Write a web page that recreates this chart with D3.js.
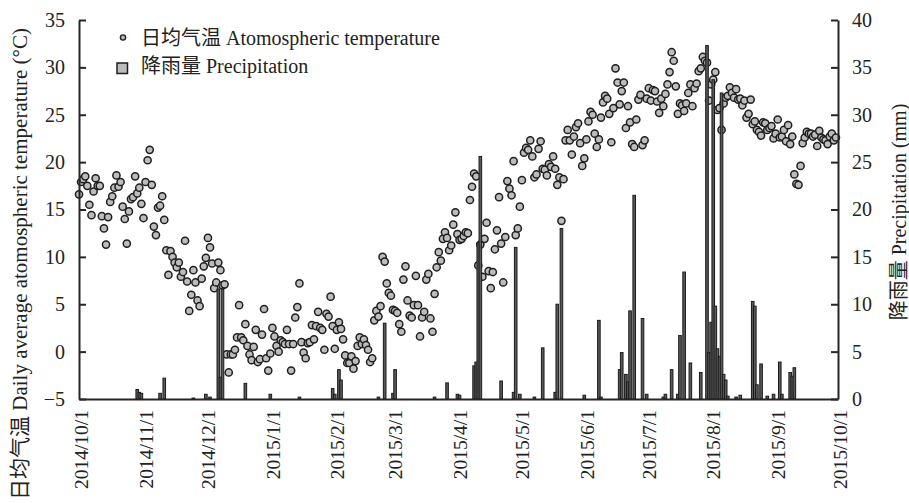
<!DOCTYPE html>
<html>
<head>
<meta charset="utf-8">
<script src="https://cdn.jsdelivr.net/npm/d3@7"></script>
<style>
body{margin:0;background:#fff;}
svg text{font-family:"Liberation Serif","Noto Sans CJK SC",serif;fill:#222;}
</style>
</head>
<body>
<svg id="chart" width="909" height="503"></svg>
<script>
// 日均气温 (°C), one value per day from 2014/10/1
var startDay = "2014/10/1";
var temperature = [
16.6,17.9,18.2,18.5,17.5,15.5,14.4,16.9,18.3,17.5,
17.5,14.3,13.0,11.3,14.2,15.8,16.4,17.3,18.6,17.4,
17.9,15.3,14.0,11.4,14.8,16.1,16.3,18.5,16.7,17.3,
15.6,14.1,17.9,20.2,21.3,17.6,13.2,12.3,15.2,15.4,
16.4,13.9,10.7,8.1,10.6,10.0,9.4,8.9,9.4,7.9,
8.4,11.7,7.4,4.3,6.0,8.6,7.3,5.4,4.8,7.7,
9.0,9.9,12.0,11.0,9.3,6.7,7.3,9.4,8.6,7.0,
7.1,-0.3,-2.2,-0.3,-0.3,0.2,1.5,4.9,1.5,1.2,
2.9,0.6,-0.3,-0.9,0.5,2.3,-1.1,-0.8,1.8,4.5,
-0.7,-2.0,-0.2,2.5,1.6,0.6,0.0,1.2,1.0,0.8,
2.3,0.8,-2.0,0.8,3.6,4.7,7.2,1.0,-0.1,-0.7,
0.9,1.0,2.8,1.3,2.7,4.2,2.5,2.3,0.2,4.0,
3.7,5.8,2.7,0.3,2.3,3.1,2.4,1.3,-0.4,-1.2,
-1.2,-0.5,-1.8,-1.0,0.6,1.5,0.8,1.3,0.7,0.2,
-1.1,-0.7,3.3,4.3,3.7,4.8,10.0,9.5,7.2,6.2,
5.9,4.4,4.3,4.1,2.9,2.1,7.6,9.0,5.4,3.8,
3.6,4.9,8.0,4.9,1.6,3.6,4.2,7.6,8.2,3.5,
2.1,6.1,8.9,10.5,9.6,11.9,12.6,12.0,10.7,11.2,
13.4,14.7,12.4,11.8,11.9,12.2,12.6,12.5,16.0,17.4,
18.8,18.5,9.1,11.3,7.9,11.9,13.6,8.5,6.7,8.4,
10.8,12.8,16.3,11.4,7.3,12.1,18.0,17.2,16.5,20.1,
12.3,13.0,15.3,18.1,21.0,21.5,21.3,22.3,20.6,18.4,
18.7,21.4,22.2,19.3,19.2,18.6,19.8,19.5,20.6,19.3,
17.6,18.4,13.8,18.2,22.3,23.4,22.3,20.8,22.7,23.7,
24.1,22.0,19.6,20.4,22.4,24.3,25.3,25.0,23.0,21.6,
22.4,24.7,26.3,27.0,26.7,25.1,22.1,25.7,29.9,28.4,
26.1,27.5,28.4,23.6,25.9,24.2,21.9,21.6,24.5,26.6,
27.1,21.8,22.3,26.7,27.8,26.5,27.6,27.5,26.4,25.2,
26.7,25.9,27.2,28.2,29.5,31.6,30.7,28.0,25.1,26.2,
26.0,25.4,26.2,27.3,28.2,25.9,27.8,28.3,29.6,29.9,
31.1,30.7,30.5,26.5,28.2,28.7,29.5,25.5,25.7,23.4,
26.2,26.8,27.0,27.9,27.3,26.8,27.7,26.6,26.7,26.0,
26.5,24.7,25.1,26.6,24.0,24.3,23.4,23.2,22.8,24.2,
24.1,23.4,23.6,23.8,22.5,23.0,24.5,22.6,22.7,23.4,
22.2,23.9,21.9,22.7,18.7,17.7,17.6,19.6,22.0,22.6,
23.2,23.0,23.0,22.7,22.9,21.7,23.3,22.6,22.4,22.3,
21.9,22.7,23.0,22.3,22.6
];

// 降雨量 (mm): day number after 2014/10/1 and amount
var rainDays = [28,29,30,39,41,55,61,63,67,68,69,80,92,106,122,123,125,126,144,147,151,152,171,177,182,183,
  190,191,192,193,203,209,210,212,219,223,229,230,232,243,250,251,260,261,263,264,265,267,271,273,281,282,
  285,288,289,291,294,299,302,303,304,305,306,307,308,309,310,311,312,316,318,324,325,326,328,331,334,337,338,342,343,344];
var rainMm = [1.0,0.7,0.6,0.6,2.2,0.1,0.5,0.2,11.6,2.3,11.6,1.65,0.5,0.2,1.1,0.5,3.1,2.0,0.2,8.0,0.6,3.1,0.2,1.7,0.5,0.4,
  3.5,3.9,16.5,25.6,1.9,0.7,16.0,0.5,0.2,5.4,0.7,10.0,18.0,0.4,8.3,0.2,3.1,4.9,2.6,1.8,9.3,21.5,8.5,0.5,0.2,0.5,
  3.1,0.5,6.7,13.4,3.8,2.8,37.3,4.9,8.1,33.7,9.8,5.3,4.5,32.3,2.6,2.0,0.3,0.2,0.4,10.3,9.8,1.5,3.7,0.3,0.5,3.9,0.5,2.8,2.4,3.3];

var dateLabels = ["2014/10/1","2014/11/1","2014/12/1","2015/1/1","2015/2/1","2015/3/1","2015/4/1",
  "2015/5/1","2015/6/1","2015/7/1","2015/8/1","2015/9/1","2015/10/1"];
var tempTicks = [-5,0,5,10,15,20,25,30,35];
var rainTicks = [0,5,10,15,20,25,30,35,40];

window.addEventListener("load",function(){
var parse = d3.utcParse("%Y/%m/%d");
var start = parse(startDay);
var left = 79, right = 838, top = 20, bottom = 399;

var x = d3.scaleUtc()
	.domain([parse(dateLabels[0]), parse(dateLabels[dateLabels.length-1])])
	.range([left, right]);
var yT = d3.scaleLinear().domain([-5,35]).range([bottom, top]);
var yR = d3.scaleLinear().domain([0,40]).range([bottom, top]);

var svg = d3.select("#chart");

var tempData = temperature.map(function(v,i){ return {date:d3.utcDay.offset(start,i), v:v}; });
var rainData = rainDays.map(function(d,i){ return {date:d3.utcDay.offset(start,d), v:rainMm[i]}; });

// 气温散点
svg.append("g")
	.selectAll("circle")
	.data(tempData)
	.enter()
	.append("circle")
	.attr("cx",function(d){ return x(d.date); })
	.attr("cy",function(d){ return yT(d.v); })
	.attr("r",3.6)
	.attr("fill","#bcbcbc")
	.attr("stroke","#1e1e1e")
	.attr("stroke-width",1.5);

// 降雨柱 - 细柱, 几乎全黑
var bw = 2.6;
svg.append("g")
	.selectAll("rect")
	.data(rainData)
	.enter()
	.append("rect")
	.attr("x",function(d){ return x(d.date)-bw/2; })
	.attr("y",function(d){ return yR(d.v); })
	.attr("width",bw)
	.attr("height",function(d){ return bottom-yR(d.v); })
	.attr("fill","#5a5a5a")
	.attr("stroke","#1a1a1a")
	.attr("stroke-width",1);

// axes
var gl = svg.append("g").attr("transform","translate("+left+",0)")
	.call(d3.axisLeft(yT).tickValues(tempTicks).tickSizeInner(-7).tickSizeOuter(0).tickPadding(14));
var gr = svg.append("g").attr("transform","translate("+right+",0)")
	.call(d3.axisRight(yR).tickValues(rainTicks).tickSizeInner(-7).tickSizeOuter(0).tickPadding(14));
var gb = svg.append("g").attr("transform","translate(0,"+bottom+")")
	.call(d3.axisBottom(x).tickValues(dateLabels.map(parse)).tickSize(0)
		.tickFormat(function(d,i){ return dateLabels[i]; }));

[gl,gr,gb].forEach(function(g){
	g.select(".domain").attr("stroke","#262626").attr("stroke-width",2);
	g.selectAll(".tick line").attr("stroke","#262626").attr("stroke-width",2);
	g.selectAll("text").style("font-size","20px").attr("fill","#222");
});
gb.selectAll("text")
	.style("font-size","19.5px")
	.attr("text-anchor","end")
	.attr("transform","translate(2,11) rotate(-90)")
	.attr("x",0).attr("y",0).attr("dy","0.35em");

// axis titles
svg.append("text")
	.attr("transform","translate(20,264) rotate(-90)")
	.attr("text-anchor","middle").attr("dy","0.35em")
	.style("font-size","21px")
	.text("日均气温 Daily average atomospheric temperature (°C)");
svg.append("text")
	.attr("transform","translate(899,212) rotate(-90)")
	.attr("text-anchor","middle").attr("dy","0.35em")
	.style("font-size","20px")
	.text("降雨量 Precipitation (mm)");

// legend
svg.append("circle").attr("cx",123).attr("cy",37.5).attr("r",2.6)
	.attr("fill","#bcbcbc").attr("stroke","#1e1e1e").attr("stroke-width",1.4);
svg.append("text").attr("x",141).attr("y",38).attr("dy","0.35em")
	.style("font-size","20px").text("日均气温 Atomospheric temperature");
svg.append("rect").attr("x",117).attr("y",63).attr("width",10.5).attr("height",10.5)
	.attr("fill","#bcbcbc").attr("stroke","#1e1e1e").attr("stroke-width",1.5);
svg.append("text").attr("x",141).attr("y",66).attr("dy","0.35em")
	.style("font-size","20px").text("降雨量 Precipitation");
});
</script>
</body>
</html>
